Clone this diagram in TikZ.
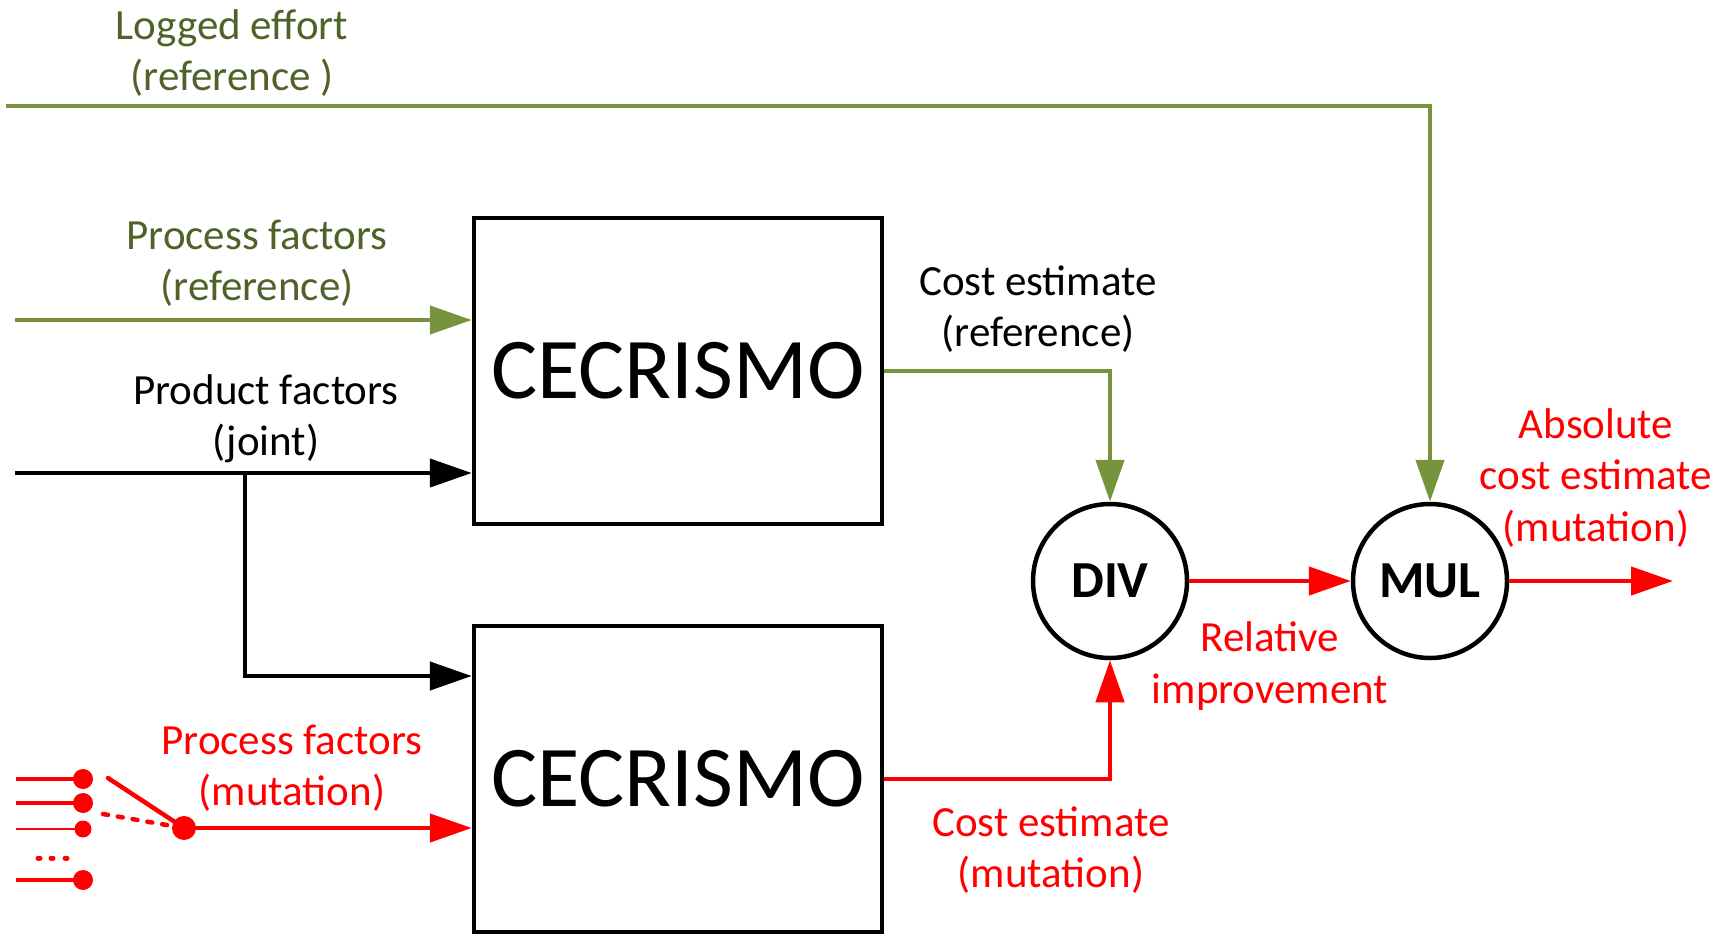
\documentclass[tikz,border=0pt]{standalone}
\usepackage{fontspec}
\setmainfont{Carlito}
\usetikzlibrary{arrows.meta}
\definecolor{lineGreen}{RGB}{119,147,60}
\definecolor{textGreen}{RGB}{79,98,40}
\definecolor{sigRed}{RGB}{255,0,0}
\tikzset{
  wire/.style={line width=2.25pt},
  arr/.style={wire,-{Triangle[length=21pt,width=14pt]}},
  block/.style={draw,line width=2.25pt,inner sep=0pt,minimum width=204pt,minimum height=153pt,
                font=\fontsize{43.3}{50}\selectfont},
  op/.style={draw,circle,line width=2.25pt,inner sep=0pt,minimum size=77pt,
             font=\fontsize{26}{30}\selectfont\bfseries},
  lbl/.style={align=center,inner sep=0pt,font=\fontsize{21.5}{25.7}\selectfont},
  pin/.style={line cap=round}
}
\begin{document}
\begin{tikzpicture}[x=0.5pt,y=-0.5pt]
\useasboundingbox (0,0) rectangle (1729,933);

% processing blocks and operators
\node[block] (cecRef) at (678,371) {CECRISMO};
\node[block] (cecMut) at (678,779) {CECRISMO};
\node[op] (div) at (1110,581) {DIV};
\node[op] (mul) at (1430,581) {MUL};

% labels
\node[lbl,text=textGreen] (lblLog) at (232,53) {Logged effort\\(reference )};
\node[lbl,text=textGreen] (lblProcRef) at (257,263) {Process factors\\(reference)};
\node[lbl] (lblProd) at (266,419) {Product factors\\(joint)};
\node[lbl,text=sigRed] (lblProcMut) at (292,768) {Process factors\\(mutation)};
\node[lbl] (lblCostRef) at (1038,309) {Cost estimate\\(reference)};
\node[lbl,text=sigRed] (lblRel) at (1270,666) {Relative\\improvement};
\node[lbl,text=sigRed] (lblCostMut) at (1051,850) {Cost estimate\\(mutation)};
\node[lbl,text=sigRed] (lblAbs) at (1596,478) {Absolute\\cost estimate\\(mutation)};

% input ends
\coordinate (logIn) at (6,106);
\coordinate (procIn) at (15,320);
\coordinate (prodIn) at (15,473);
\coordinate (branch) at (245,473);
\coordinate (pivot) at (184,828);
\coordinate (outEnd) at (1673,581);

% green reference paths
\draw[arr,lineGreen] (logIn) -| (mul.north);
\draw[arr,lineGreen] (procIn) -- (procIn -| cecRef.west);
\draw[arr,lineGreen] (cecRef.east) -| (div.north);

% black joint product factors
\draw[arr] (prodIn) -- (prodIn -| cecRef.west);
\draw[arr] (branch) |- ([yshift=51.5pt]cecMut.west);

% red mutation paths
\draw[arr,sigRed] (pivot) -- (pivot -| cecMut.west);
\draw[arr,sigRed] (cecMut.east) -| (div.south);
\draw[arr,sigRed] (div.east) -- (mul.west);
\draw[arr,sigRed] (mul.east) -- (outEnd);

% selector switch for the mutated process factors
\begin{scope}[sigRed]
  \coordinate (in1) at (83,779);
  \coordinate (in2) at (83,803);
  \coordinate (in3) at (83,829);
  \coordinate (in4) at (83,880);
  \draw[wire] (16,779) -- (in1);
  \draw[wire] (16,803) -- (in2);
  \draw[line width=1.3pt] (16,829) -- (in3);
  \draw[wire] (16,880) -- (in4);
  \fill (in1) circle (5pt);
  \fill (in2) circle (5pt);
  \fill (in3) circle (4.25pt);
  \fill (in4) circle (5pt);
  \foreach \xd in {39,52,66} \draw[line width=2.5pt,pin] (\xd-1,858) -- (\xd+1,858);
  \draw[wire,pin] (108,778) -- (pivot);
  \draw[wire,pin,dash pattern=on 2.5pt off 5pt] (103,814) -- (pivot);
  \fill (pivot) circle (6pt);
\end{scope}
\end{tikzpicture}
\end{document}
